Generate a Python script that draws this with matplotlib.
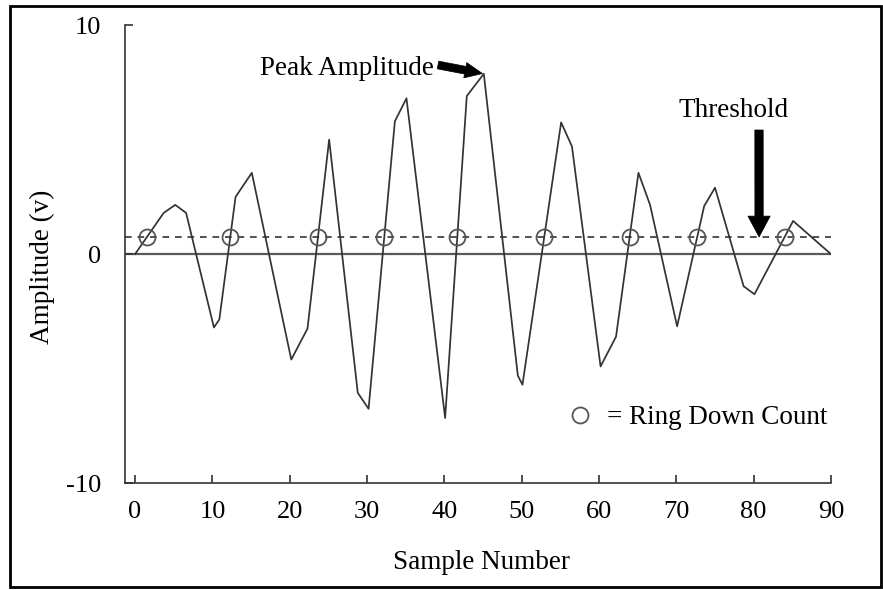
import numpy as np
import matplotlib
matplotlib.use("Agg")
import matplotlib.pyplot as plt
from matplotlib.patches import Rectangle

plt.rcParams['font.family'] = ['Liberation Serif', 'DejaVu Serif']
plt.rcParams['axes.unicode_minus'] = False

# ---- data ----
sample = [0, 3.7, 5.2, 6.6, 10.2, 10.9, 13.0, 15.1, 20.2, 22.3, 25.1, 28.8, 30.2,
          33.6, 35.1, 40.1, 42.9, 45.1, 49.5, 50.1, 55.1, 56.5, 60.2, 62.2, 65.1,
          66.6, 70.1, 73.6, 75.0, 78.7, 80.1, 85.1, 90]
amplitude = [0, 1.8, 2.15, 1.8, -3.2, -2.85, 2.5, 3.55, -4.6, -3.25, 5.0, -6.05, -6.75,
             5.8, 6.8, -7.15, 6.9, 7.87, -5.3, -5.7, 5.75, 4.7, -4.9, -3.6, 3.55,
             2.15, -3.15, 2.1, 2.9, -1.4, -1.75, 1.45, 0]
threshold = 0.75
x_ticks = [0, 10, 20, 30, 40, 50, 60, 70, 80, 90]
y_ticks = [-10, 0, 10]

W, H = 883, 590
fig = plt.figure(figsize=(W / 100, H / 100), dpi=100)

def fx(px):
    return px / W

def fy(py):
    return (H - py) / H

ax = fig.add_axes([fx(125), fy(483.3), fx(831) - fx(125), fy(25) - fy(483.3)])
ax.set_xlim(-1.3, 90)
ax.set_ylim(-10, 10)

line_col = '#333333'
ax.axhline(0, color='#5a5a5a', lw=1.6, zorder=1)
ax.axhline(threshold, color='#333333', lw=1.2, ls=(0, (4, 3.5)), zorder=1)
ax.plot(sample, amplitude, color=line_col, lw=1.25, zorder=2)

# ring-down counts: upward threshold crossings of the waveform
xs = np.array(sample, dtype=float)
ys = np.array(amplitude, dtype=float)
cross = []
for i in range(len(xs) - 1):
    if ys[i] < threshold <= ys[i + 1]:
        t = (threshold - ys[i]) / (ys[i + 1] - ys[i])
        cross.append(xs[i] + t * (xs[i + 1] - xs[i]))
ax.plot(cross, [threshold] * len(cross), ls='none', marker='o', ms=11.5,
        mfc='none', mec='#555555', mew=1.3, zorder=3, label='= Ring Down Count')

# axes styling
for s in ['top', 'right']:
    ax.spines[s].set_visible(False)
for s in ['left', 'bottom']:
    ax.spines[s].set_color('#333333')
    ax.spines[s].set_linewidth(1.2)
ax.set_xticks(x_ticks)
ax.set_yticks(y_ticks)
ax.tick_params(axis='x', direction='in', length=6, width=1.2, color='#333333',
               labelsize=19, pad=13)
ax.tick_params(axis='y', direction='in', length=6, width=1.2, color='#333333',
               labelsize=19, pad=17)

fig.text(fx(481), fy(569), 'Sample Number', fontsize=19.5, ha='center', va='baseline')
fig.text(fx(42), fy(267), 'Amplitude (v)', fontsize=19.5, ha='center', va='center',
         rotation=90)

# Peak amplitude annotation
ipk = int(np.argmax(ys))
fig.text(fx(260), fy(75), 'Peak Amplitude', fontsize=19.5, ha='left', va='baseline')
ax.annotate('', xy=(xs[ipk], ys[ipk]), xytext=(438, H - 65), textcoords='figure pixels',
            arrowprops=dict(arrowstyle='simple,head_length=0.9,head_width=0.8,tail_width=0.4',
                            fc='black', ec='black', lw=0.5, shrinkA=0, shrinkB=1,
                            mutation_scale=14))

# Threshold annotation
fig.text(fx(733.5), fy(117), 'Threshold', fontsize=19.5, ha='center', va='baseline')
ax.annotate('', xy=(80.7, threshold), xytext=(759, H - 130), textcoords='figure pixels',
            arrowprops=dict(arrowstyle='simple,head_length=0.75,head_width=0.8,tail_width=0.3',
                            fc='black', ec='black', lw=0.5, shrinkA=0, shrinkB=0,
                            mutation_scale=20))

# legend
ax.legend(loc='center left', bbox_to_anchor=(fx(566), fy(418)),
          bbox_transform=fig.transFigure, frameon=False, fontsize=19.5,
          handlelength=1.0, handletextpad=0.5, borderpad=0, borderaxespad=0,
          numpoints=1)

# outer frame
fig.patches.append(Rectangle((fx(10), fy(587)), fx(881) - fx(10), fy(6) - fy(587),
                             transform=fig.transFigure, fill=False, ec='black', lw=2.0))

fig.savefig('out.png', dpi=100)
